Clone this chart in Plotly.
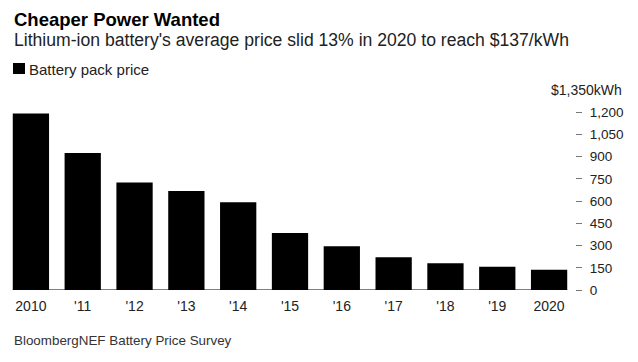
import plotly.graph_objects as go

years = ["2010", "'11", "'12", "'13", "'14", "'15", "'16", "'17", "'18", "'19", "2020"]
prices = [1191, 924, 726, 668, 592, 384, 295, 221, 181, 157, 137]
y_ticks = [0, 150, 300, 450, 600, 750, 900, 1050, 1200]
y_tick_text = ["0", "150", "300", "450", "600", "750", "900", "1,050", "1,200"]
y_max = 1350

W, H = 638, 362
ml, mr, mt, mb = 5, 63, 90, 72
PW, PH = W - ml - mr, H - mt - mb
bargap = 0.30
FONT = "Liberation Sans, Arial, sans-serif"


def px(x):
    return (x - ml) / PW


def py(y):
    return (H - mb - y) / PH


fig = go.Figure()
fig.add_trace(go.Bar(x=list(range(len(years))), y=prices, marker=dict(color="#000000", line=dict(width=0)),
                     name="Battery pack price", showlegend=False))

fig.add_shape(type="line", xref="x", yref="y", x0=-0.5 + bargap / 2, x1=len(years) - 0.5 - bargap / 2,
              y0=0, y1=0, line=dict(color="#000000", width=1))
fig.add_shape(type="rect", xref="paper", yref="paper", x0=px(13), x1=px(25), y0=py(74), y1=py(63),
              fillcolor="#000000", line=dict(width=0))

fig.update_layout(
    width=W, height=H,
    margin=dict(l=ml, r=mr, t=mt, b=mb, autoexpand=False),
    paper_bgcolor="white", plot_bgcolor="white",
    bargap=bargap,
    font=dict(family=FONT, color="#000000"),
    xaxis=dict(range=[-0.5, len(years) - 0.5], tickmode="array", tickvals=list(range(len(years))),
               ticktext=years, showgrid=False, zeroline=False, showline=False, ticks="",
               ticklabelstandoff=6, tickfont=dict(size=14, color="#222222")),
    yaxis=dict(range=[0, y_max], side="right", tickmode="array", tickvals=y_ticks, ticktext=y_tick_text,
               showgrid=False, zeroline=False, showline=False, ticks="outside", ticklen=6, tickwidth=1,
               ticklabelstandoff=5, tickcolor="#777777", tickfont=dict(size=13.5, color="#222222")),
    annotations=[
        dict(text="<b>Cheaper Power Wanted</b>", x=px(12), y=py(20), xref="paper", yref="paper",
             xanchor="left", yanchor="middle", showarrow=False, font=dict(size=18.5, color="#000000")),
        dict(text="Lithium-ion battery's average price slid 13% in 2020 to reach $137/kWh", x=px(12), y=py(40),
             xref="paper", yref="paper", xanchor="left", yanchor="middle", showarrow=False,
             font=dict(size=17.6, color="#222222")),
        dict(text="Battery pack price", x=px(27), y=py(69), xref="paper", yref="paper", xanchor="left",
             yanchor="middle", showarrow=False, font=dict(size=15, color="#222222")),
        dict(text="$1,350kWh", x=px(624), y=py(90), xref="paper", yref="paper", xanchor="right",
             yanchor="middle", showarrow=False, font=dict(size=14, color="#222222")),
        dict(text="BloombergNEF Battery Price Survey", x=px(12), y=py(340), xref="paper", yref="paper",
             xanchor="left", yanchor="middle", showarrow=False, font=dict(size=13.4, color="#333333")),
    ],
)

fig.write_html("out.html", config={"displayModeBar": False},
               post_script="document.body.style.margin='0';")
